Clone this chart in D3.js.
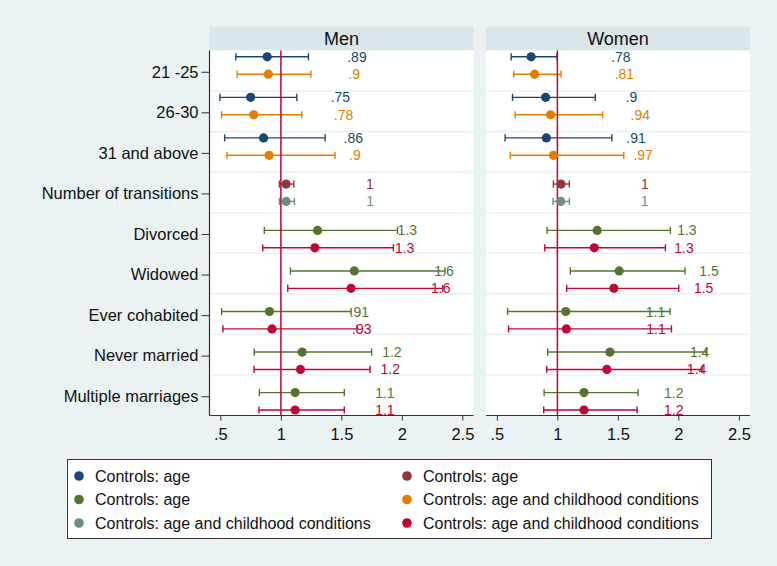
<!DOCTYPE html>
<html><head><meta charset="utf-8">
<script src="https://cdn.jsdelivr.net/npm/d3@7"></script>
<style>
html,body{margin:0;padding:0;background:#eaf2f3;}
svg{display:block;font-family:"Liberation Sans",Arial,sans-serif;}
</style></head>
<body>
<svg id="chart" width="777" height="566"></svg>
<script>
// ---------- DATA ----------
const categories = ["21 -25","26-30","31 and above","Number of transitions","Divorced","Widowed","Ever cohabited","Never married","Multiple marriages"];
const ageCats = ["21 -25","26-30","31 and above"];
const transCats = ["Number of transitions"];
const statusCats = ["Divorced","Widowed","Ever cohabited","Never married","Multiple marriages"];
const panelNames = ["Men","Women"];
const xTicks = [0.5,1,1.5,2,2.5];
const xTickLabels = [".5","1","1.5","2","2.5"];
const legendLabels = ["Controls: age","Controls: age","Controls: age","Controls: age and childhood conditions","Controls: age and childhood conditions","Controls: age and childhood conditions"];

// Men
const menAgeA = [0.887,0.750,0.857], menAgeA_lo = [0.628,0.496,0.535], menAgeA_hi = [1.228,1.132,1.366];
const menAgeC = [0.896,0.776,0.902], menAgeC_lo = [0.639,0.510,0.554], menAgeC_hi = [1.248,1.173,1.447];
const menTransA = [1.043], menTransA_lo = [0.988], menTransA_hi = [1.107];
const menTransC = [1.044], menTransC_lo = [0.988], menTransC_hi = [1.112];
const menStatA = [1.303,1.607,0.906,1.176,1.118], menStatA_lo = [0.863,1.079,0.510,0.780,0.822], menStatA_hi = [1.964,2.356,1.580,1.750,1.524];
const menStatC = [1.281,1.580,0.927,1.162,1.118], menStatC_lo = [0.850,1.057,0.521,0.778,0.819], menStatC_hi = [1.930,2.337,1.629,1.737,1.524];
// Women
const womAgeA = [0.783,0.903,0.909], womAgeA_lo = [0.618,0.629,0.568], womAgeA_hi = [0.997,1.313,1.450];
const womAgeC = [0.812,0.944,0.967], womAgeC_lo = [0.640,0.651,0.610], womAgeC_hi = [1.030,1.374,1.549];
const womTransA = [1.030], womTransA_lo = [0.967], womTransA_hi = [1.099];
const womTransC = [1.028], womTransC_lo = [0.964], womTransC_hi = [1.099];
const womStatA = [1.329,1.511,1.069,1.434,1.220], womStatA_lo = [0.915,1.107,0.588,0.920,0.890], womStatA_hi = [1.934,2.055,1.931,2.231,1.667];
const womStatC = [1.305,1.467,1.074,1.409,1.220], womStatC_lo = [0.896,1.077,0.596,0.912,0.887], womStatC_hi = [1.893,2.003,1.943,2.195,1.659];

// ---------- STYLE ----------
const C = {navy:"#1a476f", maroon:"#90353b", green:"#55752f", orange:"#e37e00", teal:"#6e8e84", cran:"#c10534"};
const legendColors = [C.navy, C.maroon, C.green, C.orange, C.teal, C.cran];

function seriesFor(p){
  const m = p === 0;
  return [
    {cats:ageCats, v:m?menAgeA:womAgeA, lo:m?menAgeA_lo:womAgeA_lo, hi:m?menAgeA_hi:womAgeA_hi, color:C.navy, shift:-5.3, slot:0},
    {cats:ageCats, v:m?menAgeC:womAgeC, lo:m?menAgeC_lo:womAgeC_lo, hi:m?menAgeC_hi:womAgeC_hi, color:C.orange, shift:-5.3, slot:1},
    {cats:transCats, v:m?menTransA:womTransA, lo:m?menTransA_lo:womTransA_lo, hi:m?menTransA_hi:womTransA_hi, color:C.maroon, shift:0.3, slot:0},
    {cats:transCats, v:m?menTransC:womTransC, lo:m?menTransC_lo:womTransC_lo, hi:m?menTransC_hi:womTransC_hi, color:C.teal, shift:0.3, slot:1},
    {cats:statusCats, v:m?menStatA:womStatA, lo:m?menStatA_lo:womStatA_lo, hi:m?menStatA_hi:womStatA_hi, color:C.green, shift:6.1, slot:0},
    {cats:statusCats, v:m?menStatC:womStatC, lo:m?menStatC_lo:womStatC_lo, hi:m?menStatC_hi:womStatC_hi, color:C.cran, shift:6.1, slot:1}
  ];
}

const svg = d3.select("#chart");
svg.append("rect").attr("width",777).attr("height",566).attr("fill","#eaf2f3");

const panelX = [[209.5,473.5],[486,750]];
const headTop = 26.5, plotTop = 50.5, plotBottom = 415.5;
const y = d3.scaleBand().domain(categories).range([plotTop, plotBottom]).padding(0);
const fmt = v => d3.format(".2~g")(v).replace(/^0\./,".");
const pairHalf = 8.7;

panelNames.forEach((name, p) => {
  const [x0, x1] = panelX[p];
  const x = d3.scaleLinear().domain([0.41, 2.592]).range([x0, x1]);
  const g = svg.append("g");
  g.append("rect").attr("x",x0).attr("y",headTop).attr("width",x1-x0).attr("height",plotTop-headTop).attr("fill","#d9e6eb");
  g.append("text").attr("x",(x0+x1)/2).attr("y",45).attr("text-anchor","middle")
    .attr("font-size",18).attr("fill","#111").text(name);
  g.append("rect").attr("x",x0).attr("y",plotTop).attr("width",x1-x0).attr("height",plotBottom-plotTop).attr("fill","#fff");
  g.selectAll(".sep").data(categories.slice(1)).join("line")
    .attr("x1",x0).attr("x2",x1)
    .attr("y1",d=>y(d)).attr("y2",d=>y(d))
    .attr("stroke","#eaf2f3").attr("stroke-width",1.6);

  const series = seriesFor(p);
  const cy = (s,c) => y(c) + y.bandwidth()/2 + s.shift + (s.slot===0 ? -pairHalf : pairHalf);
  series.forEach(s => {
    const d = s.cats.map((c,i)=>({c, v:s.v[i], lo:s.lo[i], hi:s.hi[i]}));
    const sg = g.append("g").attr("stroke",s.color).attr("stroke-width",1.4);
    sg.selectAll(".ci").data(d).join("line")
      .attr("x1",e=>x(e.lo)).attr("x2",e=>x(e.hi)).attr("y1",e=>cy(s,e.c)).attr("y2",e=>cy(s,e.c));
    sg.selectAll(".capl").data(d).join("line")
      .attr("x1",e=>x(e.lo)).attr("x2",e=>x(e.lo)).attr("y1",e=>cy(s,e.c)-3.6).attr("y2",e=>cy(s,e.c)+3.6);
    sg.selectAll(".caph").data(d).join("line")
      .attr("x1",e=>x(e.hi)).attr("x2",e=>x(e.hi)).attr("y1",e=>cy(s,e.c)-3.6).attr("y2",e=>cy(s,e.c)+3.6);
  });
  g.append("line").attr("x1",x(1)).attr("x2",x(1)).attr("y1",plotTop).attr("y2",plotBottom)
    .attr("stroke",C.cran).attr("stroke-width",1.5);
  series.forEach(s => {
    const d = s.cats.map((c,i)=>({c, v:s.v[i]}));
    g.selectAll(null).data(d).join("circle")
      .attr("cx",e=>x(e.v)).attr("cy",e=>cy(s,e.c)).attr("r",4.6).attr("fill",s.color);
    g.selectAll(null).data(d).join("text")
      .attr("x",e=>x(e.v)+80).attr("y",e=>cy(s,e.c)+5)
      .attr("font-size",14).attr("fill",s.color).text(e=>fmt(e.v));
  });
  const ax = g.append("g").attr("transform",`translate(0,${plotBottom})`)
    .call(d3.axisBottom(x).tickValues(xTicks).tickFormat((d,i)=>xTickLabels[i]).tickSize(5).tickPadding(8).tickSizeOuter(0));
  ax.select(".domain").attr("stroke","#333").attr("stroke-width",1.2).attr("d",`M${x0},0H${x1}`);
  ax.selectAll(".tick line").attr("stroke","#333");
  ax.selectAll(".tick text").attr("font-size",16.5).attr("fill","#111").attr("font-family","Liberation Sans, Arial, sans-serif").attr("dy","0.72em");
  if (p === 0) {
    const ay = g.append("g").attr("transform",`translate(${x0},0)`)
      .call(d3.axisLeft(d3.scalePoint().domain(categories).range([y(categories[0])+y.bandwidth()/2+1, y(categories[8])+y.bandwidth()/2+1]))
        .tickSize(8).tickPadding(3).tickSizeOuter(0));
    ay.select(".domain").attr("stroke","#333").attr("stroke-width",1.2).attr("d",`M0,${plotTop}V${plotBottom}`);
    ay.selectAll(".tick line").attr("stroke","#333");
    ay.selectAll(".tick text").attr("font-size",16.5).attr("fill","#111").attr("font-family","Liberation Sans, Arial, sans-serif");
  }
});

// legend
const lg = svg.append("g");
lg.append("rect").attr("x",67.5).attr("y",459.5).attr("width",644).attr("height",79).attr("fill","#fff").attr("stroke","#333").attr("stroke-width",1);
const colX = [79,407], rowY = [476,499.5,523];
legendLabels.forEach((t,i) => {
  const c = i%2, r = Math.floor(i/2);
  lg.append("circle").attr("cx",colX[c]).attr("cy",rowY[r]).attr("r",4.8).attr("fill",legendColors[i]);
  lg.append("text").attr("x",colX[c]+16).attr("y",rowY[r]+5.5).attr("font-size",16).attr("fill","#111").text(t);
});
</script>
</body></html>
